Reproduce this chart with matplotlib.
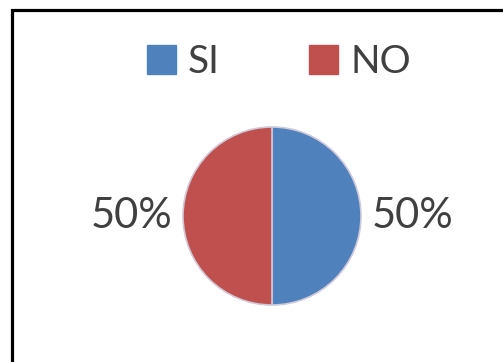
import matplotlib.pyplot as plt
from matplotlib.patches import Rectangle, Patch

# datos
labels = ["SI", "NO"]
values = [50, 50]
colors = ["#4F81BD", "#C0504D"]

plt.rcParams['font.family'] = ['Lato', 'DejaVu Sans']

fig = plt.figure(figsize=(5.03, 3.62), dpi=100)

# marco negro (se sale por la derecha y abajo)
fig.patches.append(Rectangle((12/503, -0.05), 1.2, 1 - 10/362 + 0.05,
                             transform=fig.transFigure, fill=False,
                             edgecolor='black', linewidth=2.3))

# pie centrado en (272, 216) px, radio ~89 px
cx, cy, r = 272, 216, 89
ax = fig.add_axes([(cx - r)/503, 1 - (cy + r)/362, 2*r/503, 2*r/362])
wedges, texts, autotexts = ax.pie(values, colors=colors, startangle=90,
                                  counterclock=False, autopct='%1.0f%%',
                                  pctdistance=1.58, radius=1,
                                  wedgeprops=dict(edgecolor='#d0c8d8', linewidth=1.2))
for t in autotexts:
    t.set_fontsize(30)
    t.set_color('#404040')
    t.set_clip_on(False)
ax.set_xlim(-1, 1)
ax.set_ylim(-1, 1)
ax.set_aspect('equal')

handles = [Patch(facecolor=c, edgecolor=c) for c in colors]
fig.legend(handles, labels, loc='center', bbox_to_anchor=(279/503, 1 - 62/362),
           ncol=2, frameon=False, fontsize=28, handlelength=0.75, handleheight=0.75,
           handletextpad=0.3, columnspacing=2.3, labelcolor='#404040')

fig.savefig("out.png", dpi=100)
